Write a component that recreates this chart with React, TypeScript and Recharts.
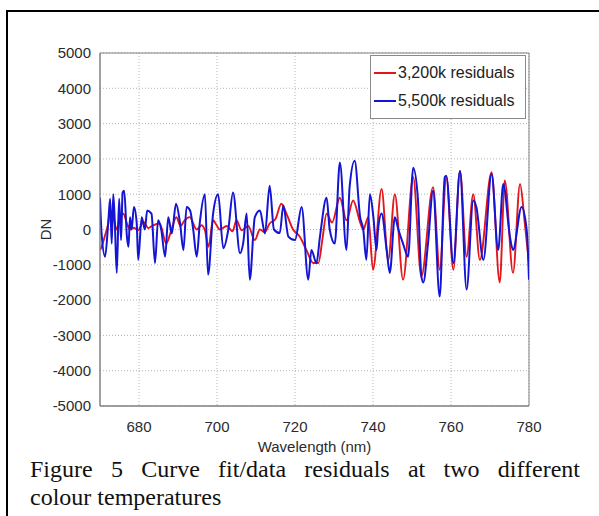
import { LineChart, Line, XAxis, YAxis, CartesianGrid, ReferenceArea, Label } from 'recharts';

const xTicks = [680, 700, 720, 740, 760, 780];
const yTicks = [-5000, -4000, -3000, -2000, -1000, 0, 1000, 2000, 3000, 4000, 5000];

// 3,200k residuals (red)
const redWl = [
  670.0, 670.4, 671.3, 672.1, 672.6, 673.4, 674.3, 675.1, 676.0, 676.9, 677.7, 678.6, 679.8, 681.1, 682.4,
  683.6, 685.3, 687.0, 688.2, 689.6, 690.6, 691.7, 693.0, 694.8, 696.0, 696.9, 697.8, 699.0, 699.9, 700.7,
  702.5, 704.0, 705.0, 706.3, 708.0, 709.7, 711.0, 712.2, 713.5, 715.0, 716.5, 717.8, 719.5, 721.2, 723.0,
  724.7, 726.0, 727.0, 728.1, 729.5, 731.5, 733.2, 734.9, 736.7, 737.5, 738.8, 740.0, 742.2, 743.9, 745.6,
  747.7, 750.3, 752.4, 755.4, 757.1, 758.8, 760.6, 762.3, 764.0, 765.7, 767.4, 770.4, 772.5, 773.8, 775.9,
  777.7, 778.9, 780.0,
];
const redDn = [
  -580, -490, -160, 170, 540, 350, 0, 350, 450, 170, 0, 50, -20, 220, 40,
  120, 170, -400, -50, 350, 100, 260, 350, 0, 120, -20, -490, 260, 120, 0,
  100, -50, 260, -20, 100, -300, 0, -80, 170, 300, 730, 450, 0, -200, -600,
  -950, -950, -300, 450, 200, 900, 260, 820, 200, 0, 350, -1140, 1150, -860, 1000,
  -1420, 1480, -1330, 1200, -1140, 1480, -1140, 1660, -770, 1000, -860, 1620, -1500, 1390, -1230,
  1290, 200, -950,
];

// 5,500k residuals (blue)
const blueWl = [
  670.0, 670.4, 671.3, 672.1, 672.6, 673.0, 673.4, 673.8, 674.3, 674.9, 675.4, 675.8, 676.2, 676.9, 677.3,
  677.7, 678.1, 678.7, 679.4, 679.8, 680.7, 681.5, 682.1, 683.2, 684.1, 684.9, 685.7, 686.7, 687.5, 688.4,
  689.5, 690.5, 691.4, 692.2, 693.1, 693.9, 694.8, 695.6, 696.9, 697.7, 699.0, 700.3, 701.6, 702.9, 704.1,
  705.9, 706.7, 707.6, 708.4, 709.7, 711.0, 712.3, 713.5, 714.6, 716.1, 717.0, 718.3, 720.0, 721.7, 723.4,
  724.2, 725.5, 726.4, 728.1, 728.9, 730.2, 731.5, 733.2, 734.0, 735.3, 736.7, 737.5, 738.3, 739.2, 740.1,
  740.9, 741.3, 742.2, 743.5, 744.3, 745.6, 746.5, 747.7, 749.0, 750.3, 751.5, 752.4, 752.9, 754.1, 755.4,
  757.1, 758.4, 758.8, 760.6, 762.3, 764.0, 765.7, 766.5, 768.3, 770.4, 772.1, 773.4, 775.1, 775.9, 778.1,
  779.4, 780.0,
];
const blueDn = [
  900, -100, -770, 170, 870, -400, 1000, 200, -1230, 870, -300, 1050, 1100, -200, -490,
  350, 0, 640, 200, -860, 350, 0, 540, 450, -950, 260, 0, -770, 350, -110,
  730, 200, -580, 640, 540, 0, -770, 200, 1000, -1280, 450, 1000, -530, 0, 1050,
  -670, -400, 450, -1420, 350, 540, -110, 1240, 0, -100, 680, -200, -300, 640, -1420,
  -580, -950, -200, 900, 0, -400, 1900, -580, 1200, 1950, 350, 0, -860, 1000, 350,
  -580, 0, 450, -580, -1230, 350, 0, -400, -770, 1750, 900, -1330, -1500, -400, 1100,
  -1900, 1480, 1520, -950, 1660, -1700, 820, 640, -860, 1570, -580, 1290, -200, -580, 640,
  0, -1420,
];

const redData = redWl.map((x, i) => ({ x, v: redDn[i] }));
const blueData = blueWl.map((x, i) => ({ x, v: blueDn[i] }));

const RED = '#e3171b';
const BLUE = '#1414d4';
const SANS = 'Arial, "Liberation Sans", sans-serif';
const axisFont = { fontSize: 15, fill: '#2b2b2b', fontFamily: SANS };

const legendRows = [
  { c: RED, t: '3,200k residuals' },
  { c: BLUE, t: '5,500k residuals' },
];

export default function App() {
  return (
    <div style={{ position: 'relative', width: 599, height: 516, background: '#fff', overflow: 'hidden' }}>
      <style>{'body{margin:0;background:#fff}'}</style>
      <div
        style={{
          position: 'absolute',
          left: 6,
          top: 10,
          width: 620,
          height: 540,
          borderLeft: '2px solid #000',
          borderTop: '2px solid #000',
        }}
      />
      <div style={{ position: 'absolute', left: 0, top: 0 }}>
        <LineChart width={599} height={460} margin={{ top: 53, right: 70, left: 60, bottom: 24 }}>
          <CartesianGrid
            stroke="#b5b5b5"
            strokeDasharray="1 2"
            horizontalValues={yTicks}
            verticalValues={xTicks}
          />
          <XAxis
            dataKey="x"
            type="number"
            domain={[670, 780]}
            ticks={xTicks}
            allowDataOverflow
            height={30}
            tickLine={false}
            tickMargin={9}
            stroke="#808080"
            tick={axisFont}
          >
            <Label
              value="Wavelength (nm)"
              position="insideBottom"
              offset={-16}
              style={{ fontSize: 15, fill: '#2b2b2b', fontFamily: SANS }}
            />
          </XAxis>
          <YAxis
            type="number"
            domain={[-5000, 5000]}
            ticks={yTicks}
            allowDataOverflow
            width={40}
            tickLine={false}
            tickMargin={3}
            stroke="#808080"
            tick={axisFont}
            interval={0}
          >
            <Label
              value="DN"
              angle={-90}
              position="left"
              offset={14}
              style={{ fontSize: 15, fill: '#2b2b2b', fontFamily: SANS, textAnchor: 'middle' }}
            />
          </YAxis>
          <ReferenceArea
            x1={670}
            x2={780}
            y1={-5000}
            y2={5000}
            fill="none"
            fillOpacity={0}
            stroke="#808080"
            strokeWidth={1}
            ifOverflow="visible"
          />
          <Line
            type="monotone"
            data={redData}
            dataKey="v"
            name="3,200k residuals"
            stroke={RED}
            strokeWidth={1.9}
            dot={false}
            isAnimationActive={false}
          />
          <Line
            type="monotone"
            data={blueData}
            dataKey="v"
            name="5,500k residuals"
            stroke={BLUE}
            strokeWidth={2}
            dot={false}
            isAnimationActive={false}
          />
        </LineChart>
      </div>
      <div
        style={{
          position: 'absolute',
          left: 370,
          top: 55,
          width: 156,
          boxSizing: 'border-box',
          border: '1px solid #8a8a8a',
          background: '#fff',
          padding: '3px 0 3px 3px',
          fontFamily: SANS,
          fontSize: 16,
          color: '#222',
          lineHeight: '28px',
        }}
      >
        {legendRows.map((r) => (
          <div key={r.t} style={{ display: 'flex', alignItems: 'center' }}>
            <span style={{ display: 'inline-block', width: 22, height: 2, background: r.c, marginRight: 2 }} />
            {r.t}
          </div>
        ))}
      </div>
      <div
        style={{
          position: 'absolute',
          left: 30,
          top: 455,
          width: 550,
          fontFamily: '"Times New Roman", "Liberation Serif", serif',
          fontSize: 24,
          lineHeight: '28px',
          color: '#111',
        }}
      >
        <div style={{ textAlign: 'justify', textAlignLast: 'justify' }}>
          Figure 5 Curve fit/data residuals at two different
        </div>
        <div>colour temperatures</div>
      </div>
    </div>
  );
}
